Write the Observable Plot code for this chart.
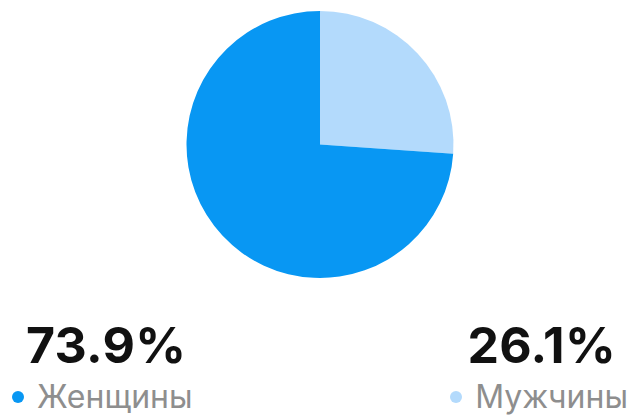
<!DOCTYPE html>
<html>
<head>
<meta charset="utf-8">
<script src="https://cdn.jsdelivr.net/npm/d3@7"></script>
<script src="https://cdn.jsdelivr.net/npm/@observablehq/plot@0.6"></script>
<style>
  html, body { margin: 0; padding: 0; background: #fff; }
  #root { position: relative; width: 633px; height: 417px; overflow: hidden; font-family: Inter, "Noto Sans", sans-serif; }
  #root svg { display: block; }
  .pct { position: absolute; top: 320px; font-size: 50px; line-height: 1; font-weight: 700; color: #111; letter-spacing: 0.3px; }
  .lab { position: absolute; top: 381px; font-size: 32px; line-height: 1; color: #8e8e8e; white-space: nowrap; }
  .dot { display: inline-block; width: 12px; height: 12px; border-radius: 50%; margin-right: 13px; vertical-align: 5px; }
</style>
</head>
<body>
<div id="root"></div>
<script>
// Data
const categories = ["Мужчины", "Женщины"];
const shares = [26.1, 73.9];
const colors = ["#b3dafc", "#0897f3"];

const data = categories.map((c, i) => ({category: c, value: shares[i]}));
const color = d3.scaleOrdinal(categories, colors);

function pieMark(...args) {
  const dims = args.find(a => a && typeof a === "object" && "marginTop" in a && "width" in a);
  const cx = dims.marginLeft + (dims.width - dims.marginLeft - dims.marginRight) / 2;
  const cy = dims.marginTop + (dims.height - dims.marginTop - dims.marginBottom) / 2;
  const r = Math.min(dims.width - dims.marginLeft - dims.marginRight, dims.height - dims.marginTop - dims.marginBottom) / 2;
  const arcs = d3.pie().sort(null).value(d => d.value)(data);
  const arc = d3.arc().innerRadius(0).outerRadius(r);
  const g = d3.create("svg:g").attr("transform", `translate(${cx},${cy})`);
  g.selectAll("path").data(arcs).join("path")
    .attr("d", arc)
    .attr("fill", d => color(d.data.category));
  return g.node();
}

const plot = Plot.plot({
  width: 633,
  height: 289,
  marginLeft: 7,
  marginRight: 0,
  marginTop: 11,
  marginBottom: 11,
  x: {axis: null},
  y: {axis: null},
  marks: [pieMark]
});

const root = document.getElementById("root");
root.appendChild(plot);

// Labels below the chart
const women = data.find(d => d.category === "Женщины");
const men = data.find(d => d.category === "Мужчины");

function addLabel(d, side) {
  const pct = document.createElement("div");
  pct.className = "pct";
  pct.textContent = d.value.toFixed(1) + "%";
  const lab = document.createElement("div");
  lab.className = "lab";
  const dot = document.createElement("span");
  dot.className = "dot";
  dot.style.background = color(d.category);
  lab.appendChild(dot);
  lab.appendChild(document.createTextNode(d.category));
  if (side === "left") {
    pct.style.left = "26px";
    lab.style.left = "12px";
  } else {
    pct.style.right = "17px";
    lab.style.right = "5px";
  }
  root.appendChild(pct);
  root.appendChild(lab);
}
addLabel(women, "left");
addLabel(men, "right");
</script>
</body>
</html>
